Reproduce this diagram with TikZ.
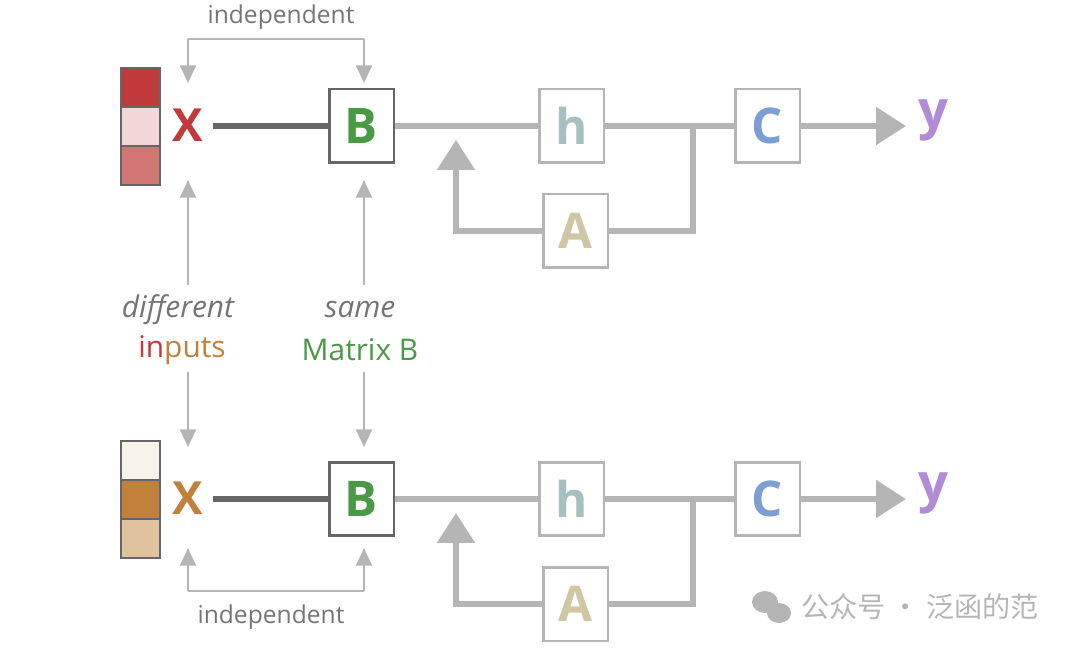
\documentclass[tikz,border=0pt]{standalone}
\usepackage{fontspec}
\setmainfont{Open Sans}
\newfontfamily\cjk{Noto Sans CJK SC}
\usetikzlibrary{arrows.meta}
\definecolor{lgray}{HTML}{B5B5B5}
\definecolor{dgray}{HTML}{666666}
\definecolor{tgray}{HTML}{757575}
\definecolor{bgreen}{HTML}{4A9A45}
\definecolor{hcol}{HTML}{A6BFC0}
\definecolor{acol}{HTML}{CFC6A4}
\definecolor{ccol}{HTML}{7B9ED5}
\definecolor{ycol}{HTML}{B08BD8}
\definecolor{xred}{HTML}{C0393B}
\definecolor{xorange}{HTML}{C0813A}
\definecolor{redA}{HTML}{C0393B}
\definecolor{redB}{HTML}{F3D6D8}
\definecolor{redC}{HTML}{D27674}
\definecolor{orA}{HTML}{F7F2EA}
\definecolor{orB}{HTML}{C0813A}
\definecolor{orC}{HTML}{E0C29E}
\tikzset{
  box/.style={draw=lgray,line width=1.7pt,fill=white,minimum width=1.3cm,minimum height=1.48cm,inner sep=0pt,font=\fontsize{28}{28}\selectfont\bfseries},
  cell/.style={draw=dgray,line width=1pt,minimum width=0.78cm,minimum height=0.78cm,inner sep=0pt},
  wire/.style={lgray,line width=3pt},
  thin/.style={lgray,line width=1.5pt},
  tip/.style={-{Triangle[length=10pt,width=9pt]}},
  lbl/.style={font=\fontsize{14}{14}\selectfont,text=tgray}
}
\begin{document}
\begin{tikzpicture}[x=0.02cm,y=-0.02cm]
  \useasboundingbox (0,0) rectangle (1080,652);
  \foreach \r/\dy/\ca/\cb/\cc/\xc in {1/0/redA/redB/redC/xred, 2/373/orA/orB/orC/xorange}{
    \begin{scope}[yshift=-\dy*0.02cm]
      % input vector
      \node[cell,fill=\ca] (v1\r) at (140.5,87.5) {};
      \node[cell,fill=\cb] (v2\r) at (140.5,126.5) {};
      \node[cell,fill=\cc] (v3\r) at (140.5,165.5) {};
      \node[text=\xc,font=\fontsize{26}{26}\selectfont\bfseries] (x\r) at (188,125) {X};
      \node[box,draw=dgray] (B\r) at (361.5,126) {\textcolor{bgreen}{B}};
      \node[box] (h\r) at (571.5,126) {\textcolor{hcol}{h}};
      \node[box] (A\r) at (575.5,231) {\textcolor{acol}{A}};
      \node[box] (C\r) at (767.5,126) {\textcolor{ccol}{C}};
      \node[text=ycol,font=\fontsize{30}{30}\selectfont\bfseries] (y\r) at (933,120) {y};
      \coordinate (j\r) at (693,126);
      \coordinate (k\r) at (456,231);
      \coordinate (t\r) at (456,140);
      \coordinate (e\r) at (906,126);
      % connectors
      \draw[dgray,line width=3pt] (213,126) -- (B\r.west);
      \draw[wire] (B\r.east) -- (h\r.west);
      \draw[wire] (h\r.east) -- (C\r.west);
      \draw[wire] (j\r) |- (A\r.east);
      \draw[wire,-{Triangle[length=17pt,width=21pt]}] (A\r.west) -- (k\r) -- (t\r);
      \draw[wire,-{Triangle[length=17pt,width=21pt]}] (C\r.east) -- (e\r);
    \end{scope}
  }
  % labels between rows
  \node[lbl,font=\fontsize{17}{17}\selectfont\itshape] (diff) at (178,310) {different};
  \node[font=\fontsize{17}{17}\selectfont] (inp) at (182,350) {\textcolor{xred}{in}\textcolor{xorange}{puts}};
  \node[lbl,font=\fontsize{17}{17}\selectfont\itshape] (same) at (360,310) {same};
  \node[font=\fontsize{17}{17}\selectfont,text=bgreen] (mat) at (360,350) {Matrix B};
  \draw[thin,tip] (188,285) -- (188,180);
  \draw[thin,tip] (364,285) -- (364,180);
  \draw[thin,tip] (188,372) -- (188,447);
  \draw[thin,tip] (364,372) -- (364,447);
  % independent brackets
  \node[lbl] (ind1) at (281,17) {independent};
  \draw[thin,tip] (188,39) -- (188,83);
  \draw[thin,tip] (364,39) -- (364,83);
  \draw[thin] (188,39) -- (364,39);
  \node[lbl] (ind2) at (271,617) {independent};
  \draw[thin,tip] (188,591) -- (188,548);
  \draw[thin,tip] (364,591) -- (364,548);
  \draw[thin] (188,591) -- (364,591);
  % watermark
  \fill[lgray] (765,602) ellipse (13 and 11);
  \fill[lgray] (779,613) ellipse (12 and 10);
  \node[text=lgray,font=\cjk\fontsize{16}{16}\selectfont,anchor=west] (wm) at (795,607) {公众号 · 泛函的范};
\end{tikzpicture}
\end{document}
